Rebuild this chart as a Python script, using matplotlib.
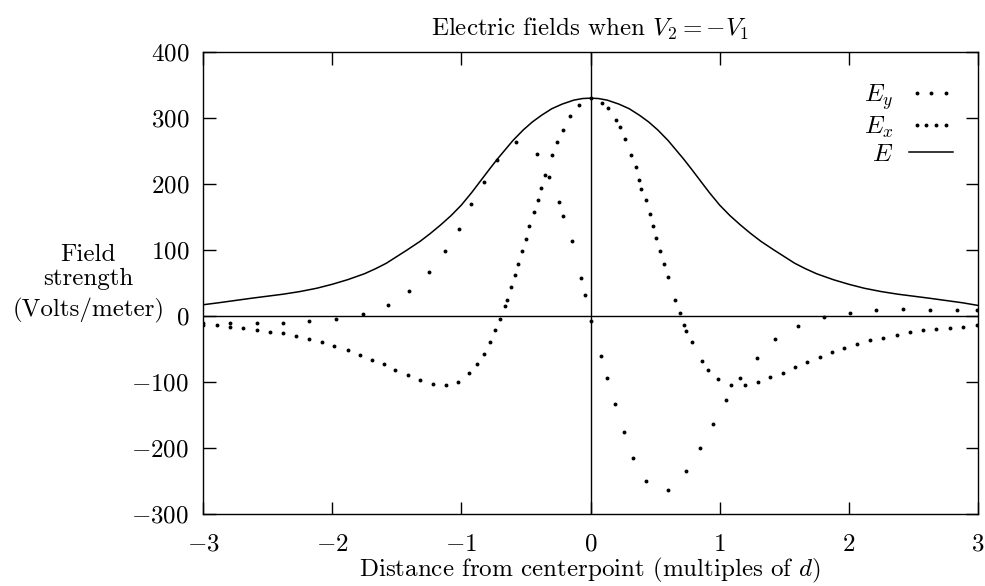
import matplotlib
matplotlib.use("Agg")
import matplotlib.pyplot as plt
from matplotlib.lines import Line2D
from matplotlib.legend_handler import HandlerLine2D

# ────────────────────────────────────────────────
#  Data
# ────────────────────────────────────────────────

# E_y (odd, sparse dots)
ey_x = [-2.998, -2.791, -2.584, -2.377, -2.176, -1.969, -1.765, -1.568, -1.403,
        -1.253, -1.129, -1.021, -0.928, -0.822, -0.723, -0.574, -0.413, -0.318,
        -0.245, -0.212, -0.147, -0.075, -0.041, 0.005, 0.083, 0.129, 0.188,
        0.256, 0.328, 0.432, 0.597, 0.742, 0.845, 0.946, 1.047, 1.155, 1.287,
        1.432, 1.610, 1.804, 2.008, 2.212, 2.421, 2.628, 2.834, 2.995]
ey_y = [-10, -10, -10, -10, -8, -5, 3, 16, 38,
        66, 98, 132, 169, 203, 237, 264, 245, 210,
        173, 152, 114, 57, 32, -7, -60, -94, -133,
        -176, -215, -250, -264, -235, -200, -164, -128, -94, -63,
        -35, -15, -1, 5, 9, 10, 9, 9, 9]

# E_x (even, dense dots)
ex_x = [-2.998, -2.894, -2.791, -2.687, -2.584, -2.480, -2.377, -2.279, -2.176,
        -2.080, -1.982, -1.881, -1.788, -1.692, -1.600, -1.512, -1.416, -1.318,
        -1.220, -1.121, -1.026, -0.943, -0.879, -0.822, -0.775, -0.736, -0.698,
        -0.664, -0.650, -0.612, -0.584, -0.563, -0.529, -0.501, -0.473, -0.436,
        -0.408, -0.380, -0.349, -0.297, -0.258, -0.215, -0.155, -0.088, 0.0,
        0.091, 0.137, 0.194, 0.225, 0.266, 0.316, 0.349, 0.375, 0.393, 0.429,
        0.460, 0.483, 0.509, 0.537, 0.568, 0.602, 0.651, 0.690, 0.724, 0.736,
        0.783, 0.860, 0.909, 0.990, 1.090, 1.194, 1.295, 1.393, 1.488, 1.584,
        1.674, 1.773, 1.868, 1.964, 2.064, 2.165, 2.264, 2.372, 2.470, 2.574,
        2.677, 2.780, 2.884, 2.992]
ex_y = [-13, -14, -16, -18, -21, -24, -26, -30, -35,
        -40, -45, -52, -59, -67, -73, -82, -90, -97,
        -103, -105, -100, -87, -73, -57, -40, -22, -4,
        15, 24, 44, 62, 79, 99, 117, 137, 157,
        175, 194, 213, 244, 263, 282, 303, 319, 330,
        323, 315, 297, 286, 268, 244, 225, 206, 193, 175,
        155, 137, 118, 98, 79, 59, 24, 4, -14, -23,
        -40, -68, -82, -96, -104, -105, -100, -93, -86, -77,
        -69, -62, -55, -48, -42, -37, -33, -29, -25, -22,
        -20, -18, -16, -14]

# E (solid line)
e_x = [-3.0, -2.88, -2.75, -2.62, -2.5, -2.38, -2.25, -2.12, -2.0, -1.88,
       -1.75, -1.66, -1.58, -1.5, -1.42, -1.32, -1.24, -1.16, -1.08, -1.0,
       -0.92, -0.85, -0.78, -0.72, -0.66, -0.6, -0.52, -0.45, -0.38, -0.3,
       -0.22, -0.13, -0.06, 0.0, 0.06, 0.13, 0.22, 0.3, 0.38, 0.45, 0.52,
       0.6, 0.66, 0.72, 0.78, 0.85, 0.92, 1.0, 1.08, 1.16, 1.24, 1.32,
       1.42, 1.5, 1.58, 1.66, 1.75, 1.88, 2.0, 2.12, 2.25, 2.38, 2.5,
       2.62, 2.75, 2.88, 3.0]
e_y = [17, 20, 23.5, 27, 30, 33, 37, 42, 48, 55,
       64, 72, 80, 90, 100, 113, 125, 138, 152, 168,
       187, 205, 223, 238, 252, 266, 282, 294, 304, 314,
       321, 327, 329.5, 330, 329.5, 327, 321, 314, 304, 294, 282,
       266, 252, 238, 223, 205, 187, 168, 152, 138, 125, 113,
       100, 90, 80, 72, 64, 55, 48, 42, 37, 33, 30,
       27, 23.5, 20, 16]

x_ticks = [-3, -2, -1, 0, 1, 2, 3]
y_ticks = [-300, -200, -100, 0, 100, 200, 300, 400]
x_tick_labels = ["$-3$", "$-2$", "$-1$", "$0$", "$1$", "$2$", "$3$"]
y_tick_labels = ["$-300$", "$-200$", "$-100$", "$0$", "$100$", "$200$", "$300$", "$400$"]
y_label_lines = ["Field", "strength", "(Volts/meter)"]

# ────────────────────────────────────────────────
#  Style (gnuplot / LaTeX look)
# ────────────────────────────────────────────────
plt.rcParams["font.family"] = "cmr10"
plt.rcParams["mathtext.fontset"] = "cm"
plt.rcParams["axes.unicode_minus"] = False
FS = 18

fig = plt.figure(figsize=(9.85, 5.86), dpi=100)
ax = fig.add_axes([0.2061, 0.1229, 0.7868, 0.7884])

ax.axhline(0, color="black", lw=1.0, zorder=1)
ax.axvline(0, color="black", lw=1.0, zorder=1)

dot_kw = dict(ls="none", marker="o", ms=2.8, mew=0, color="black")
ax.plot(ey_x, ey_y, **dot_kw)
ax.plot(ex_x, ex_y, **dot_kw)
ax.plot(e_x, e_y, color="black", lw=1.1)

ax.set_xlim(-3, 3)
ax.set_ylim(-300, 400)
ax.set_xticks(x_ticks)
ax.set_xticklabels(x_tick_labels)
ax.set_yticks(y_ticks)
ax.set_yticklabels(y_tick_labels)
ax.tick_params(direction="in", length=9, width=1.0, top=True, right=True,
               labelsize=FS)
ax.tick_params(axis="x", pad=14)
ax.tick_params(axis="y", pad=10)
for sp in ax.spines.values():
    sp.set_linewidth(1.0)

ax.set_title("Electric fields when $V_2 = -V_1$", fontsize=FS, pad=12)
ax.set_xlabel("Distance from centerpoint (multiples of $d$)", fontsize=FS, labelpad=0)

# y label as three stacked lines left of the axis
for line, yy in zip(y_label_lines, [0.5476, 0.4957, 0.4286]):
    ax.text(-0.148, yy, line, transform=ax.transAxes, fontsize=FS,
            ha="center", va="baseline")

h_ey = Line2D([], [], **dot_kw)
h_ex = Line2D([], [], **dot_kw)
h_e = Line2D([], [], color="black", lw=1.1)
ax.legend([h_ey, h_ex, h_e], ["$E_y$", "$E_x$", "$E$"],
          handler_map={h_ey: HandlerLine2D(numpoints=3),
                       h_ex: HandlerLine2D(numpoints=4)},
          loc="upper right", bbox_to_anchor=(0.968, 0.935), frameon=False,
          markerfirst=False, fontsize=FS, handlelength=1.76,
          handletextpad=0.64, labelspacing=0.12, borderpad=0,
          borderaxespad=0)

fig.savefig("out.png", dpi=100)
